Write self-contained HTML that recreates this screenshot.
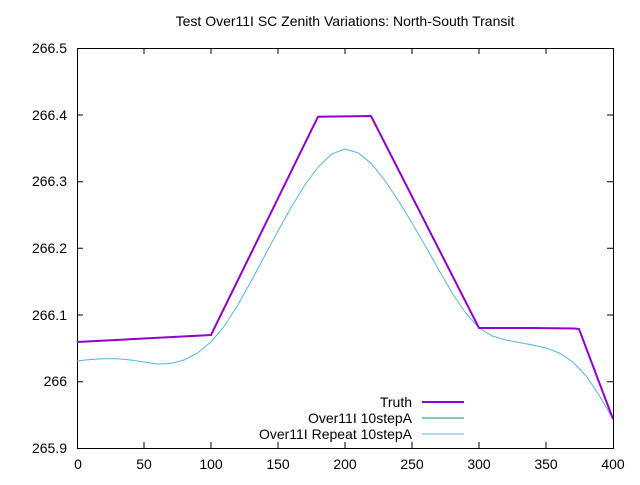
<!DOCTYPE html><html><head><style>body{margin:0;background:#fff}</style></head><body>
<svg width="640" height="480" xmlns="http://www.w3.org/2000/svg" font-family="Liberation Sans, sans-serif" font-size="14">
<text x="345" y="26" text-anchor="middle" font-size="14">Test Over11I SC Zenith Variations: North-South Transit</text>
<rect x="77.5" y="48.5" width="536" height="400" fill="none" stroke="#000"/>
<g stroke="#000">
<path d="M77 115h6M77 181.7h6M77 248.3h6M77 315h6M77 381.7h6M613 115h-6M613 181.7h-6M613 248.3h-6M613 315h-6M613 381.7h-6"/>
<path d="M144 448v-6M211 448v-6M278 448v-6M345 448v-6M412 448v-6M479 448v-6M546 448v-6M144 48v6M211 48v6M278 48v6M345 48v6M412 48v6M479 48v6M546 48v6"/>
</g>
<g text-anchor="end">
<text x="67" y="53">266.5</text><text x="67" y="120">266.4</text><text x="67" y="186">266.3</text><text x="67" y="253">266.2</text><text x="67" y="320">266.1</text><text x="67" y="386">266</text><text x="67" y="453">265.9</text>
</g>
<g text-anchor="middle">
<text x="78" y="469">0</text><text x="144" y="469">50</text><text x="211" y="469">100</text><text x="278" y="469">150</text><text x="345" y="469">200</text><text x="412" y="469">250</text><text x="479" y="469">300</text><text x="546" y="469">350</text><text x="613" y="469">400</text>
</g>
<polyline fill="none" stroke="#56b4e9" stroke-width="1" points="77,361 90.4,359.5 103.8,358.7 117.2,358.8 130.6,360 144,362 157.4,364 170.8,363.5 184.2,360 197.6,353 211,342 224.4,326 237.8,305 251.2,281 264.6,256 278,231 291.4,207 304.8,185 318.2,167 331.6,154 345,149 358.4,153 371.8,164 385.2,181 398.6,201 412,223 425.4,246 438.8,270 452.2,293 465.6,313 479,328 492.4,336 505.8,340 519.2,342.5 532.6,345 546,348 559.4,353 572.8,362 586.2,376 599.6,396 613,419"/>
<path fill="none" stroke="#9400d3" stroke-width="2" d="M77 342L211 335L318 116.7L371 116L479 328L533 328L575 328.5L579 329L613 419"/>
<g text-anchor="end"><text x="412" y="407">Truth</text><text x="412" y="423">Over11I 10stepA</text><text x="412" y="439">Over11I Repeat 10stepA</text></g>
<path d="M422 402h42" stroke="#9400d3" stroke-width="2"/>
<path d="M422 418h42" stroke="#009e73"/>
<path d="M422 434h42" stroke="#56b4e9"/>
</svg></body></html>
